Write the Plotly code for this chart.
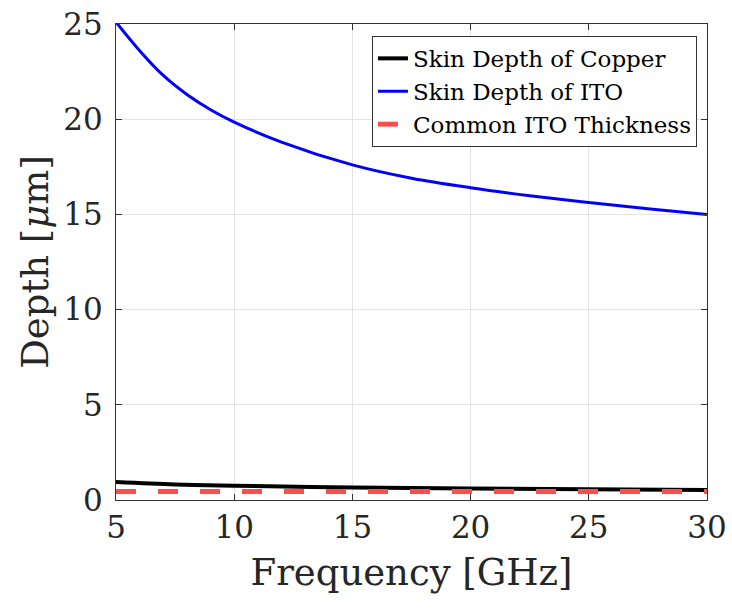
import plotly.graph_objects as go

freq = [5, 6, 7, 8, 9, 10, 12, 15, 17.5, 20, 22.5, 25, 27.5, 30]
ito_depth = [25.1, 23.6, 22.3, 21.3, 20.5, 19.85, 18.8, 17.6, 16.9, 16.4, 15.98, 15.62, 15.3, 15.0]
cu_freq = [5, 7.5, 10, 15, 20, 25, 30]
cu_depth = [0.95, 0.82, 0.75, 0.65, 0.60, 0.56, 0.53]
ito_thick_freq = [5, 30]
ito_thick = [0.45, 0.45]

FONT = "DejaVu Serif"

fig = go.Figure()
fig.add_trace(go.Scatter(x=cu_freq, y=cu_depth, mode="lines", name="Skin Depth of Copper",
                         line=dict(color="black", width=4, shape="spline")))
fig.add_trace(go.Scatter(x=freq, y=ito_depth, mode="lines", name="Skin Depth of ITO",
                         line=dict(color="#0000ff", width=3, shape="spline")))
fig.add_trace(go.Scatter(x=ito_thick_freq, y=ito_thick, mode="lines", name="Common ITO Thickness",
                         line=dict(color="#ff4d4d", width=5, dash="20px,22px")))

axis_common = dict(showline=True, linecolor="#333333", linewidth=1, mirror="allticks",
                   ticks="inside", ticklen=6, tickcolor="#333333", automargin=False,
                   showgrid=True, gridcolor="#e3e3e3", gridwidth=1, zeroline=False,
                   tickfont=dict(family=FONT, size=31, color="#262626"))

fig.update_layout(
    width=732, height=612,
    margin=dict(l=116, r=25, t=24, b=112),
    paper_bgcolor="white", plot_bgcolor="white",
    font=dict(family=FONT, color="#262626"),
    xaxis=dict(range=[5, 30], tickvals=[5, 10, 15, 20, 25, 30],
               title=dict(text="Frequency [GHz]", font=dict(family=FONT, size=37), standoff=14),
               **axis_common),
    yaxis=dict(range=[0, 25], tickvals=[0, 5, 10, 15, 20, 25], ticklabelstandoff=6,
               title=dict(text="Depth [<i>μ</i>m]", font=dict(family=FONT, size=37), standoff=3),
               **axis_common),
    legend=dict(x=0.983, y=0.975, xanchor="right", yanchor="top",
                bgcolor="white", bordercolor="#333333", borderwidth=1,
                font=dict(family=FONT, size=23, color="black"),
                tracegroupgap=0, itemwidth=30),
    showlegend=True,
)

fig.write_html("out.html")
